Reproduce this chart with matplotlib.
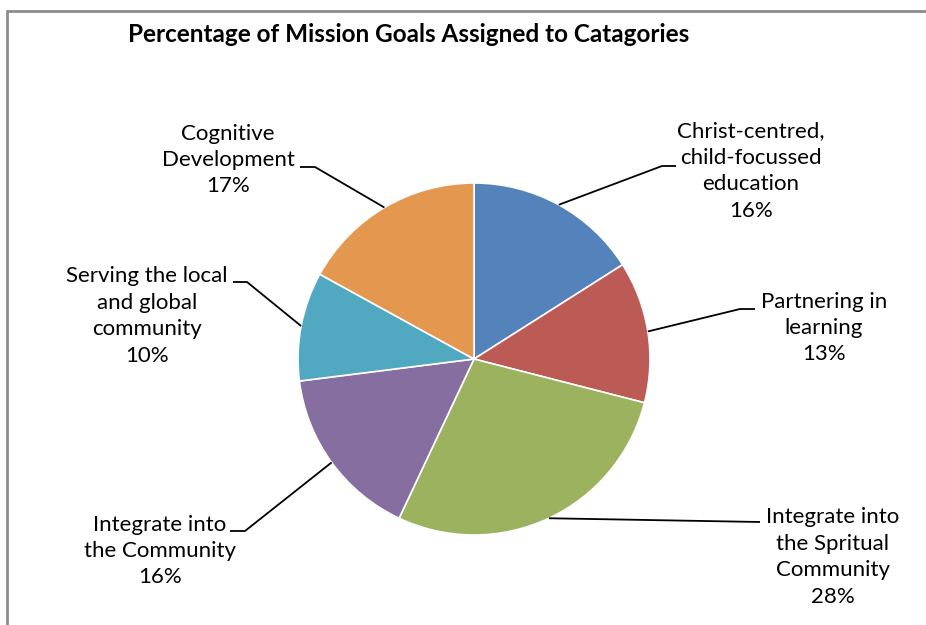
"""
Pie chart: percentage of mission goals per category
"""
import numpy as np
import matplotlib.pyplot as plt
import matplotlib
from matplotlib.patches import Rectangle

matplotlib.rcParams['font.family'] = ['Lato', 'DejaVu Sans']

# data
categories = ['Christ-centred,\nchild-focussed\neducation',
              'Partnering in\nlearning',
              'Integrate into\nthe Spritual\nCommunity',
              'Integrate into\nthe Community',
              'Serving the local\nand global\ncommunity',
              'Cognitive\nDevelopment']
percentages = [16, 13, 28, 16, 10, 17]
colors = ['#5383BA', '#BC5B55', '#9DB25F', '#866EA0', '#50A9C1', '#E3974F']

# label layout (pixel coords, y measured from top)
label_pos = [(751, 171), (824, 328), (833, 557), (160, 551), (147, 316), (228, 160)]
elbow_pos = [(662, 166), (740, 309), (760, 522), (245, 531), (247, 282), (315, 167)]
tail_pos = [(676, 166), (755, 309), (760, 522), (230, 531), (233, 282), (300, 167)]

W, H = 926, 625
cx, cy, r = 474, 359, 176

fig = plt.figure(figsize=(W / 100, H / 100), dpi=100)
ax = fig.add_axes([0, 0, 1, 1])

wedges, _ = ax.pie(percentages, colors=colors, startangle=90, counterclock=False,
                   center=(cx, H - cy), radius=r,
                   wedgeprops=dict(edgecolor='white', linewidth=1.2))
ax.set_xlim(0, W)
ax.set_ylim(0, H)
ax.set_aspect('auto')
ax.axis('off')

# chart frame
ax.add_patch(Rectangle((7, -20), W + 20, H - 11 + 20, fill=False,
                       edgecolor='#8c8c8c', linewidth=2))

for w, lab, p, lp, ep, tp in zip(wedges, categories, percentages,
                                  label_pos, elbow_pos, tail_pos):
    ang = np.deg2rad((w.theta1 + w.theta2) / 2)
    x0 = cx + r * np.cos(ang)
    y0 = (H - cy) + r * np.sin(ang)
    ax.plot([x0, ep[0], tp[0]], [y0, H - ep[1], H - tp[1]],
            color='black', lw=1.3, solid_capstyle='butt')
    ax.text(lp[0], H - lp[1], f'{lab}\n{p}%', ha='center', va='center',
            fontsize=16, linespacing=1.4, color='black')

ax.text(409, H - 35, 'Percentage of Mission Goals Assigned to Catagories',
        ha='center', va='center', fontsize=17.5, fontweight='bold')

plt.savefig('out.png', dpi=100)
plt.close()
